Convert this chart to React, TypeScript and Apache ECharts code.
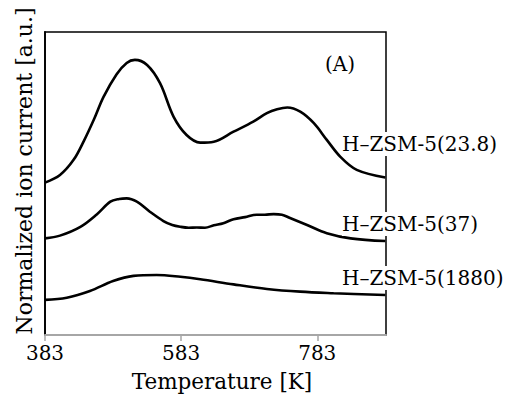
import React, { useEffect, useRef } from "react";
import * as echarts from "echarts";

const tempTicks = [383, 583, 783];

const s238T = [383, 405, 425, 440, 455, 469, 488, 503, 515, 533, 552, 572, 591, 611, 631, 660, 689, 709, 724, 739, 758, 778, 797, 817, 841, 883];
const s238V = [50.3, 52.8, 57.8, 64.0, 71.2, 78.6, 86.0, 89.8, 90.8, 89.1, 83.1, 72.0, 66.0, 63.5, 63.8, 67.1, 70.4, 73.2, 74.5, 75.1, 73.7, 69.9, 64.4, 58.8, 54.5, 52.0];

const s37T = [383, 405, 435, 459, 479, 492, 503, 518, 537, 557, 570, 582, 594, 606, 618, 631, 645, 660, 677, 694, 706, 719, 731, 743, 768, 797, 832, 883];
const s37V = [31.9, 32.8, 35.7, 39.8, 44.0, 44.9, 45.1, 44.0, 40.7, 37.6, 36.3, 35.7, 35.4, 35.5, 35.4, 36.2, 36.9, 38.2, 38.9, 39.7, 39.7, 39.9, 39.7, 38.6, 36.3, 33.6, 31.9, 31.0];

const s1880T = [383, 415, 449, 483, 513, 547, 582, 611, 660, 709, 758, 807, 883];
const s1880V = [11.6, 12.3, 14.5, 17.8, 19.5, 19.8, 19.2, 18.4, 16.7, 15.2, 14.3, 13.8, 13.2];

const seriesNames = ["H–ZSM-5(23.8)", "H–ZSM-5(37)", "H–ZSM-5(1880)"];

const X_MIN = 383;
const X_MAX = 884;
const Y_MIN = 0;
const Y_MAX = 100;

const FONT = "DejaVu Serif";

function zip(t: number[], v: number[]) {
  return t.map((x, i) => [x, v[i]]);
}

export default function App() {
  const ref = useRef<HTMLDivElement>(null);
  useEffect(() => {
    document.body.style.margin = "0";
    if (!ref.current) return;
    const chart = echarts.init(ref.current, undefined, { renderer: "svg" });
    const lineStyle = { color: "#000", width: 2.6 };
    const mkSeries = (name: string, data: number[][]) => ({
      name,
      type: "line",
      data,
      smooth: 0.35,
      showSymbol: false,
      symbol: "none",
      lineStyle,
      z: 3,
    });
    const labelStyle = (text: string, x: number, y: number) => ({
      type: "text",
      left: x,
      top: y,
      z: 10,
      style: {
        text,
        fill: "#000",
        font: `20px "${FONT}"`,
        backgroundColor: "#fff",
        padding: [2, 0, 2, 0],
      },
    });
    chart.setOption({
      animation: false,
      backgroundColor: "#fff",
      grid: {
        left: 45,
        top: 32,
        right: 120,
        bottom: 59,
        show: true,
        borderColor: "#000",
        borderWidth: 1.5,
        backgroundColor: "transparent",
      },
      xAxis: {
        type: "value",
        min: X_MIN,
        max: X_MAX,
        splitLine: { show: false },
        axisLine: { onZero: false, lineStyle: { color: "#a6a6a6", width: 2 } },
        axisTick: { show: true, length: 6, customValues: tempTicks, lineStyle: { color: "#a6a6a6", width: 1.5 } },
        axisLabel: { customValues: tempTicks, color: "#000", fontFamily: FONT, fontSize: 20, margin: 8 },
      },
      yAxis: {
        type: "value",
        min: Y_MIN,
        max: Y_MAX,
        splitLine: { show: false },
        axisLine: { show: true, onZero: false, lineStyle: { color: "#000", width: 1.8 } },
        axisTick: { show: false },
        axisLabel: { show: false },
      },
      series: [
        mkSeries(seriesNames[0], zip(s238T, s238V)),
        mkSeries(seriesNames[1], zip(s37T, s37V)),
        mkSeries(seriesNames[2], zip(s1880T, s1880V)),
      ],
      graphic: [
        labelStyle(seriesNames[0], 342, 132),
        labelStyle(seriesNames[1], 342, 212),
        labelStyle(seriesNames[2], 342, 266),
        {
          type: "text",
          left: 325,
          top: 54,
          z: 10,
          style: { text: "(A)", fill: "#000", font: `20px "${FONT}"` },
        },
        {
          type: "text",
          x: 222,
          y: 381,
          z: 10,
          style: {
            text: "Temperature [K]",
            fill: "#000",
            font: `21.5px "${FONT}"`,
            align: "center",
            verticalAlign: "middle",
          },
        },
        {
          type: "text",
          x: 24,
          y: 171,
          rotation: Math.PI / 2,
          z: 10,
          style: {
            text: "Normalized ion current [a.u.]",
            fill: "#000",
            font: `22px "${FONT}"`,
            align: "center",
            verticalAlign: "middle",
          },
        },
      ],
    });
    return () => chart.dispose();
  }, []);
  return <div ref={ref} style={{ width: 506, height: 394 }} />;
}
